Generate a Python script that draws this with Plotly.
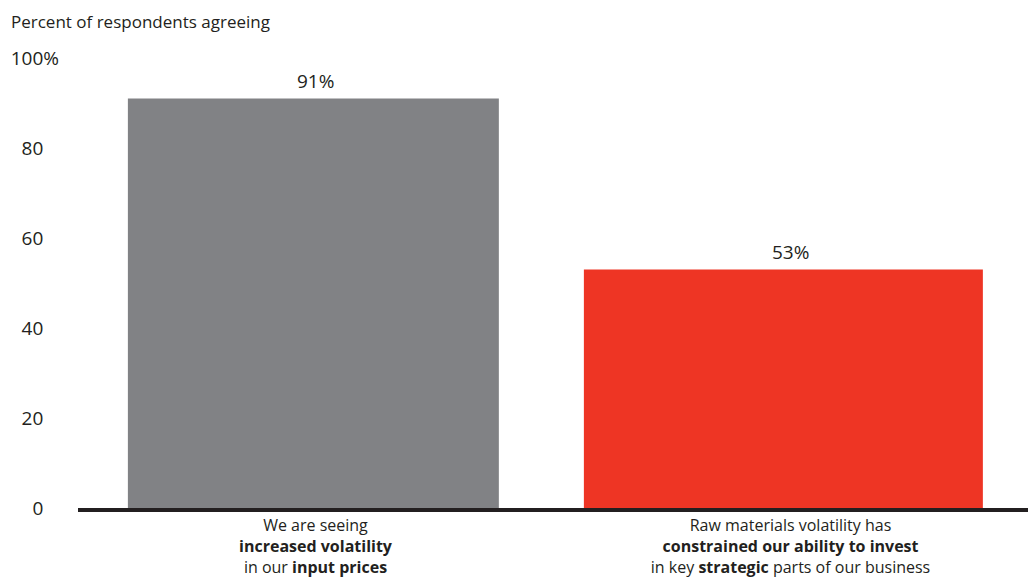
import plotly.graph_objects as go

categories = [
    "We are seeing<br><b>increased volatility</b><br>in our <b>input prices</b>",
    "Raw materials volatility has<br><b>constrained our ability to invest</b><br>in key <b>strategic</b> parts of our business",
]
values = [91, 53]
value_labels = ["91%", "53%"]
colors = ["#818285", "#ee3524"]
tick_vals = [0, 20, 40, 60, 80, 100]
tick_text = ["0", "20", "40", "60", "80", "100%"]

hidden_pct = '<span style="color:rgba(0,0,0,0)">%</span>'
tick_text_disp = [t if t.endswith("%") else t + hidden_pct for t in tick_text]

FONT = "'Open Sans', Lato, sans-serif"
TXT = "#231f20"

fig = go.Figure(
    go.Bar(
        x=categories,
        y=values,
        marker=dict(color=colors, line=dict(width=0)),
        width=[0.781, 0.84],
        offset=[-0.395, -0.435],
        hoverinfo="skip",
    )
)

annotations = [
    dict(
        text="Percent of respondents agreeing",
        xref="paper", yref="paper",
        x=-69 / 950, y=1 + 36 / 450,
        xanchor="left", yanchor="middle",
        showarrow=False,
        font=dict(size=17, color=TXT, family=FONT),
    )
]
for cat, v, lab in zip(categories, values, value_labels):
    annotations.append(
        dict(
            text=lab, x=cat, y=v, xref="x", yref="y",
            xanchor="center", yanchor="bottom", yshift=3,
            showarrow=False,
            font=dict(size=19, color=TXT, family=FONT),
        )
    )

fig.update_layout(
    width=1028,
    height=588,
    margin=dict(l=78, r=0, t=58, b=80),
    paper_bgcolor="white",
    plot_bgcolor="white",
    font=dict(family=FONT, color=TXT, size=16),
    showlegend=False,
    annotations=annotations,
)

fig.update_xaxes(
    showline=True,
    linecolor=TXT,
    linewidth=4,
    showgrid=False,
    ticks="",
    tickfont=dict(size=16, color=TXT, family=FONT),
    range=[-0.5, 1.5],
    fixedrange=True,
)
fig.update_yaxes(
    range=[0, 100],
    tickvals=tick_vals,
    ticktext=tick_text_disp,
    showgrid=False,
    zeroline=False,
    showline=False,
    ticks="",
    ticklabelstandoff=18,
    tickfont=dict(size=19, color=TXT, family=FONT),
    fixedrange=True,
)

fig.write_html(
    "out.html",
    config={"displayModeBar": False},
    post_script="document.body.style.margin='0';",
)
